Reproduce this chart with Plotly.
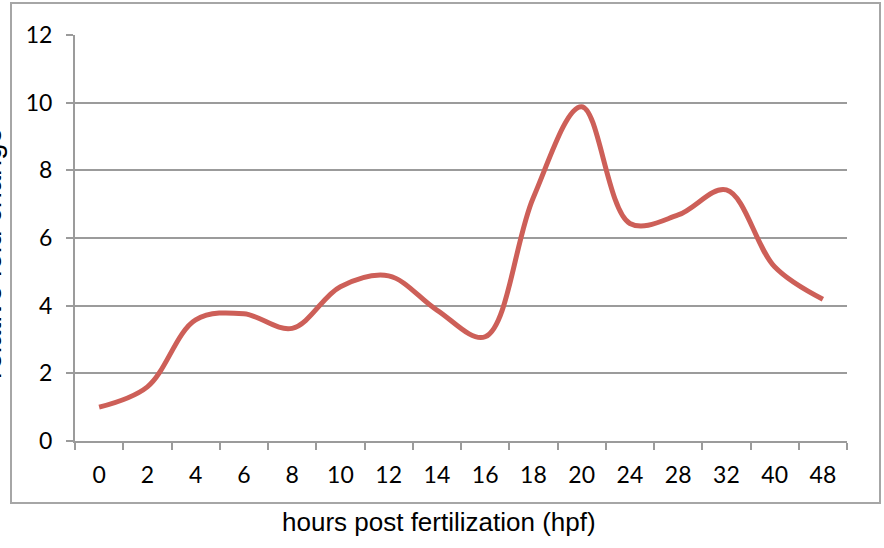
import plotly.graph_objects as go

# hours post fertilization (categorical axis) and relative fold change
hpf_labels = ["0", "2", "4", "6", "8", "10", "12", "14", "16", "18",
              "20", "24", "28", "32", "40", "48"]
fold_change = [1.0, 1.6, 3.58, 3.76, 3.33, 4.56, 4.88, 3.87, 3.08, 7.2,
               9.88, 6.43, 6.68, 7.42, 5.15, 4.19]

y_ticks = [0, 2, 4, 6, 8, 10, 12]

W, H = 884, 548
L, R, T, B = 75, 37, 35, 107
pw, ph = W - L - R, H - T - B


def px(xpix):
    return (xpix - L) / pw


def py(ypix):
    return (H - B - ypix) / ph


grid = "#9b9b9b"
tick_font = dict(family="Lato", size=23, color="#000000")

fig = go.Figure()
fig.add_trace(go.Scatter(
    x=hpf_labels, y=fold_change, mode="lines",
    line=dict(color="#cd5f58", width=5, shape="spline", smoothing=1.0),
    showlegend=False, hoverinfo="x+y",
))

fig.update_layout(
    width=W, height=H,
    margin=dict(l=L, r=R, t=T, b=B),
    paper_bgcolor="white", plot_bgcolor="white",
    xaxis=dict(
        type="category", categoryorder="array", categoryarray=hpf_labels,
        range=[-0.5, len(hpf_labels) - 0.5],
        showgrid=False, zeroline=False,
        showline=True, linecolor=grid, linewidth=2,
        ticks="outside", tickson="boundaries", ticklen=7, tickwidth=2,
        tickcolor=grid, tickfont=tick_font, ticklabelstandoff=12,
    ),
    yaxis=dict(
        range=[0, 12], tickvals=y_ticks, ticktext=[str(v) for v in y_ticks],
        showgrid=True, gridcolor=grid, gridwidth=2, zeroline=False,
        showline=True, linecolor=grid, linewidth=2,
        ticks="outside", ticklen=7, tickwidth=2, tickcolor=grid,
        tickfont=tick_font, ticklabelstandoff=9,
    ),
    shapes=[dict(
        type="rect", xref="paper", yref="paper",
        x0=px(11), x1=px(880), y0=py(503), y1=py(3),
        line=dict(color="#a6a6a6", width=2), fillcolor="rgba(0,0,0,0)",
        layer="below",
    )],
    annotations=[
        dict(text="hours post fertilization (hpf)", xref="paper", yref="paper",
             x=px(438.5), y=py(522), xanchor="center", yanchor="middle",
             showarrow=False,
             font=dict(family="Liberation Sans", size=26, color="#000000")),
        dict(text="relative fold change", xref="paper", yref="paper",
             x=px(9), y=py(253), xanchor="right", yanchor="middle",
             textangle=-90, showarrow=False,
             font=dict(family="Liberation Sans", size=29, color="#000000")),
    ],
)

fig.write_html("out.html")
